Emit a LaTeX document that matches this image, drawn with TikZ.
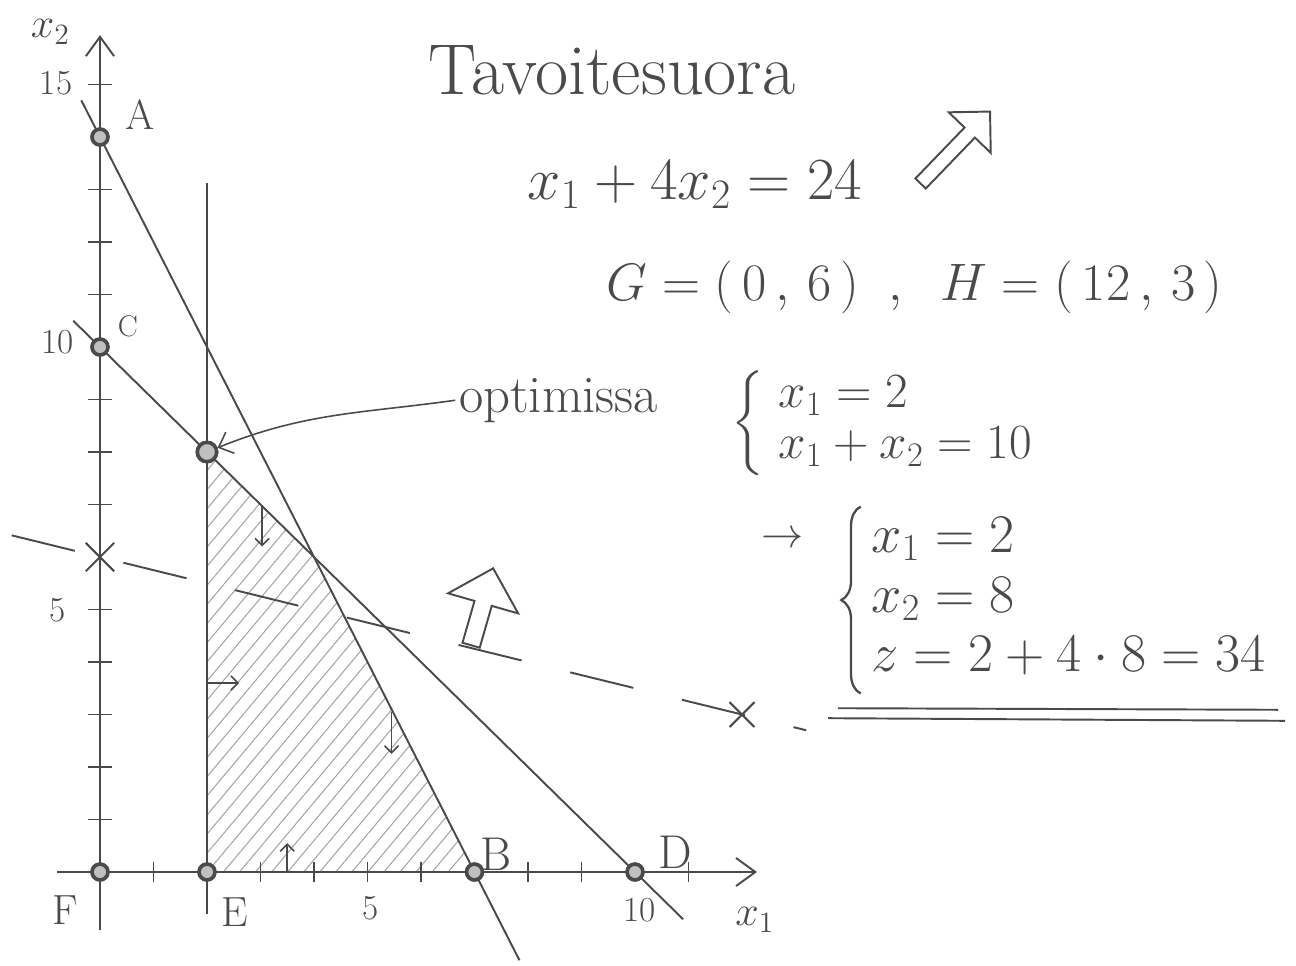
\RequirePackage{fix-cm}
\documentclass[tikz,border=0pt]{standalone}
\usepackage{amsmath}
\usetikzlibrary{arrows.meta,calc,decorations.pathreplacing,patterns.meta,shapes.arrows,shapes.misc}
\definecolor{pencil}{HTML}{4A4A4A}
\definecolor{hatch}{HTML}{A4A4A4}

\begin{document}
\begin{tikzpicture}[
   x=1.07cm, y=1.05cm,
   line/.style={draw=pencil, line width=1.1pt},
   axis/.style={line, -{Straight Barb[length=11pt,width=16pt]}},
   tick/.style={line, line width=1pt},
   pt/.style={circle, draw=pencil, line width=2pt, fill=pencil!35,
      inner sep=0pt, minimum size=9pt},
   cross/.style={cross out, draw=pencil, line width=1.2pt, inner sep=0pt,
      minimum size=15pt},
   hint/.style={line, line width=0.9pt, -{Straight Barb[length=4pt,width=8pt]}},
   hollow/.style={single arrow, draw=pencil, line width=1.1pt, inner xsep=0pt},
   curly/.style={draw=pencil, line width=1.3pt, decorate,
      decoration={brace, amplitude=11pt}},
   ptlab/.style={text=pencil, font=\fontsize{24}{28}\selectfont},
   ticklab/.style={text=pencil, font=\fontsize{20}{24}\selectfont},
   note/.style={text=pencil, inner sep=2pt, font=\fontsize{30}{33}\selectfont}
]
\useasboundingbox (-1.869,-1.790) rectangle (22.355,16.610);

\coordinate (K) at (4,6);
\node[pt] (F) at (0,0) {};
\node[pt] (E) at (2,0) {};
\node[pt] (B) at (7,0) {};
\node[pt] (D) at (10,0) {};
\node[pt] (A) at (0,14) {};
\node[pt] (C) at (0,10) {};
\node[pt, minimum size=11pt] (opt) at (2,8) {};
\node[cross] (G) at (0,6) {};
\node[cross, minimum size=13pt] (H) at (12,3) {};

\fill[pattern={Lines[angle=50,distance=7pt,line width=0.6pt]}, pattern color=hatch]
   (E.center) -- (opt.center) -- (K) -- (B.center) -- cycle;

\draw[axis] (-0.8,0) -- (12.28,0);
\draw[axis] (0,-1.1) -- (0,15.94);
\foreach \i in {1,3,4,5,6,8,9,11}
   \draw[tick] (\i,-0.19) -- (\i,0.19);
\foreach \j in {1,2,3,4,5,7,8,9,11,12,13,15}
   \draw[tick] (-0.22,\j) -- (0.22,\j);

\draw[line] ($(A)!-0.05!(B)$) -- ($(A)!1.12!(B)$);
\draw[line] ($(C)!-0.05!(D)$) -- ($(C)!1.09!(D)$);
\draw[line] ($(E)!-0.1!(opt)$) -- ($(E)!1.64!(opt)$);
\draw[line, dash pattern=on 1.3cm off 1cm] ($(G)!-0.1375!(H)$) -- ($(G)!1.1!(H)$);

\draw[hint] (3.03,6.97) -- (3.03,6.2);
\draw[hint] (5.45,3.05) -- (5.45,2.25);
\draw[hint] (2,3.6) -- (2.6,3.6);
\draw[hint] (3.5,0) -- (3.5,0.55);

\node[pt] at (F) {};
\node[pt] at (E) {};
\node[pt] at (B) {};
\node[pt] at (D) {};
\node[pt] at (A) {};
\node[pt] at (C) {};
\node[pt, minimum size=11pt] at (opt) {};

\node[ptlab] (labA) at (0.75,14.42) {A};
\node[ptlab, font=\fontsize{17}{20}\selectfont] (labC) at (0.52,10.4) {C};
\node[ptlab, font=\fontsize{27}{30}\selectfont] (labB) at (7.4,0.34) {B};
\node[ptlab, font=\fontsize{27}{30}\selectfont] (labD) at (10.75,0.38) {D};
\node[ptlab] (labE) at (2.52,-0.76) {E};
\node[ptlab] (labF) at (-0.65,-0.72) {F};
\node[ticklab] (y15) at (-0.82,15.03) {15};
\node[ticklab] (y10) at (-0.80,10.1) {10};
\node[ticklab] (y5) at (-0.79,4.99) {5};
\node[ticklab] (x5) at (5.05,-0.69) {5};
\node[ticklab] (x10) at (10.09,-0.72) {10};
\node[ptlab] (lx2) at (-0.93,16.0) {$x_2$};
\node[ptlab] (lx1) at (12.24,-0.91) {$x_1$};

\node[hollow, single arrow head extend=0.55cm, inner ysep=0.16cm,
   minimum height=1.6cm, rotate=74] (normal) at (7.12,4.97) {};
\node[hollow, single arrow head extend=0.44cm, inner ysep=0.125cm,
   minimum height=2cm, rotate=46] (up) at (15.94,13.75) {};

\node[note, font=\fontsize{41}{49}\selectfont] (title) at (9.57,15.28) {Tavoitesuora};
\node[note, font=\fontsize{34}{40}\selectfont] (objeq) at (11.12,13.09) {$x_1 + 4x_2 = 24$};
\node[note] (GH) at (15.23,11.14)
   {$G = (\,0\,,\,6\,)\;\;,\;\;H = (\,12\,,\,3\,)$};
\node[note, anchor=base west] (optlab) at (6.64,8.76) {optimissa};
\node[note, anchor=west, font=\fontsize{28}{29}\selectfont] (sys1) at (11.74,8.55)
   {$\left\{\;\begin{array}{@{}l@{}} x_1 = 2\\ x_1 + x_2 = 10\end{array}\right.$};
\node[note, font=\fontsize{24}{28}\selectfont] (impl) at (12.75,6.32) {$\rightarrow$};
\node[note, anchor=west, font=\fontsize{31}{34}\selectfont] (sys2) at (14.35,5.18)
   {$\begin{array}{@{}l@{}} x_1 = 2\\ x_2 = 8\\ z = 2 + 4\cdot 8 = 34\end{array}$};
\draw[curly] ([xshift=-4pt]sys2.south west) -- ([xshift=-4pt]sys2.north west);

\draw[line] (13.79,3.12) -- (22.02,3.09);
\draw[line] (13.61,2.93) -- (22.15,2.88);

\draw[line, line width=0.9pt, -{Straight Barb[length=7pt,width=13pt]}]
   (optlab.west) to[out=188, in=22] (opt);
\end{tikzpicture}
\end{document}
